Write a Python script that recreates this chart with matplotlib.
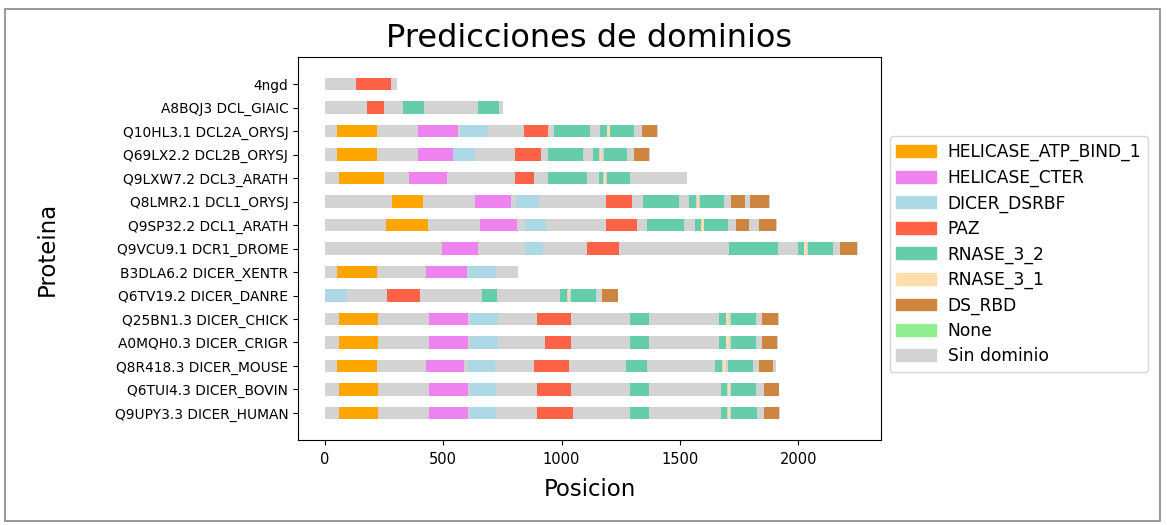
import matplotlib
matplotlib.use('Agg')
import matplotlib.pyplot as plt
import matplotlib.patches as mpatches

# proteins, top to bottom
proteinas = ['4ngd', 'A8BQJ3 DCL_GIAIC', 'Q10HL3.1 DCL2A_ORYSJ', 'Q69LX2.2 DCL2B_ORYSJ',
             'Q9LXW7.2 DCL3_ARATH', 'Q8LMR2.1 DCL1_ORYSJ', 'Q9SP32.2 DCL1_ARATH',
             'Q9VCU9.1 DCR1_DROME', 'B3DLA6.2 DICER_XENTR', 'Q6TV19.2 DICER_DANRE',
             'Q25BN1.3 DICER_CHICK', 'A0MQH0.3 DICER_CRIGR', 'Q8R418.3 DICER_MOUSE',
             'Q6TUI4.3 DICER_BOVIN', 'Q9UPY3.3 DICER_HUMAN']
longitudes = [305, 754, 1409, 1373, 1532, 1880, 1910, 2251, 815, 1239,
              1918, 1913, 1906, 1921, 1922]

dominios = ['HELICASE_ATP_BIND_1', 'HELICASE_CTER', 'DICER_DSRBF', 'PAZ',
            'RNASE_3_2', 'RNASE_3_1', 'DS_RBD', 'None', 'Sin dominio']
colores = ['orange', 'violet', 'lightblue', 'tomato', 'mediumaquamarine',
           'navajowhite', 'peru', 'lightgreen', 'lightgrey']

# (protein index, domain, start, end)
segmentos = [
    (0, 'PAZ', 133, 280),
    (1, 'PAZ', 176, 250), (1, 'RNASE_3_2', 330, 418), (1, 'RNASE_3_2', 648, 736),
    (2, 'HELICASE_ATP_BIND_1', 52, 221), (2, 'HELICASE_CTER', 395, 560),
    (2, 'DICER_DSRBF', 570, 690), (2, 'PAZ', 839, 942), (2, 'RNASE_3_2', 970, 1121),
    (2, 'RNASE_3_2', 1163, 1194), (2, 'RNASE_3_1', 1194, 1204),
    (2, 'RNASE_3_2', 1206, 1307), (2, 'DS_RBD', 1341, 1403),
    (3, 'HELICASE_ATP_BIND_1', 52, 221), (3, 'HELICASE_CTER', 395, 539),
    (3, 'DICER_DSRBF', 542, 633), (3, 'PAZ', 803, 914), (3, 'RNASE_3_2', 942, 1092),
    (3, 'RNASE_3_2', 1133, 1160), (3, 'RNASE_3_1', 1162, 1172),
    (3, 'RNASE_3_2', 1179, 1277), (3, 'DS_RBD', 1304, 1368),
    (4, 'HELICASE_ATP_BIND_1', 58, 250), (4, 'HELICASE_CTER', 353, 515),
    (4, 'PAZ', 803, 883), (4, 'RNASE_3_2', 942, 1106), (4, 'RNASE_3_2', 1157, 1176),
    (4, 'RNASE_3_1', 1178, 1188), (4, 'RNASE_3_2', 1194, 1288),
    (5, 'HELICASE_ATP_BIND_1', 282, 414), (5, 'HELICASE_CTER', 633, 788),
    (5, 'DICER_DSRBF', 807, 906), (5, 'PAZ', 1188, 1297), (5, 'RNASE_3_2', 1345, 1497),
    (5, 'RNASE_3_2', 1539, 1570), (5, 'RNASE_3_1', 1572, 1582),
    (5, 'RNASE_3_2', 1585, 1686), (5, 'DS_RBD', 1716, 1777), (5, 'DS_RBD', 1797, 1876),
    (6, 'HELICASE_ATP_BIND_1', 259, 436), (6, 'HELICASE_CTER', 656, 810),
    (6, 'DICER_DSRBF', 845, 936), (6, 'PAZ', 1188, 1320), (6, 'RNASE_3_2', 1363, 1517),
    (6, 'RNASE_3_2', 1562, 1588), (6, 'RNASE_3_1', 1590, 1600),
    (6, 'RNASE_3_2', 1603, 1704), (6, 'DS_RBD', 1739, 1792), (6, 'DS_RBD', 1835, 1906),
    (7, 'HELICASE_CTER', 494, 645), (7, 'DICER_DSRBF', 845, 921), (7, 'PAZ', 1107, 1244),
    (7, 'RNASE_3_2', 1706, 1916), (7, 'RNASE_3_2', 2000, 2024),
    (7, 'RNASE_3_1', 2026, 2036), (7, 'RNASE_3_2', 2042, 2148), (7, 'DS_RBD', 2178, 2247),
    (8, 'HELICASE_ATP_BIND_1', 52, 221), (8, 'HELICASE_CTER', 426, 600),
    (8, 'DICER_DSRBF', 606, 724),
    (9, 'DICER_DSRBF', 0, 95), (9, 'PAZ', 262, 403), (9, 'RNASE_3_2', 664, 729),
    (9, 'RNASE_3_2', 994, 1023), (9, 'RNASE_3_1', 1025, 1035),
    (9, 'RNASE_3_2', 1039, 1144), (9, 'DS_RBD', 1171, 1239),
    (10, 'HELICASE_ATP_BIND_1', 58, 224), (10, 'HELICASE_CTER', 439, 603),
    (10, 'DICER_DSRBF', 611, 732), (10, 'PAZ', 898, 1038), (10, 'RNASE_3_2', 1289, 1370),
    (10, 'RNASE_3_2', 1667, 1694), (10, 'RNASE_3_1', 1696, 1706),
    (10, 'RNASE_3_2', 1718, 1820), (10, 'DS_RBD', 1848, 1913),
    (11, 'HELICASE_ATP_BIND_1', 58, 224), (11, 'HELICASE_CTER', 439, 603),
    (11, 'DICER_DSRBF', 611, 732), (11, 'PAZ', 929, 1038), (11, 'RNASE_3_2', 1289, 1370),
    (11, 'RNASE_3_2', 1667, 1694), (11, 'RNASE_3_1', 1696, 1706),
    (11, 'RNASE_3_2', 1718, 1820), (11, 'DS_RBD', 1848, 1910),
    (12, 'HELICASE_ATP_BIND_1', 52, 221), (12, 'HELICASE_CTER', 426, 588),
    (12, 'DICER_DSRBF', 603, 717), (12, 'PAZ', 883, 1030), (12, 'RNASE_3_2', 1274, 1363),
    (12, 'RNASE_3_2', 1649, 1680), (12, 'RNASE_3_1', 1682, 1694),
    (12, 'RNASE_3_2', 1702, 1807), (12, 'DS_RBD', 1835, 1894),
    (13, 'HELICASE_ATP_BIND_1', 58, 224), (13, 'HELICASE_CTER', 439, 603),
    (13, 'DICER_DSRBF', 611, 724), (13, 'PAZ', 898, 1038), (13, 'RNASE_3_2', 1289, 1370),
    (13, 'RNASE_3_2', 1674, 1701), (13, 'RNASE_3_1', 1703, 1713),
    (13, 'RNASE_3_2', 1718, 1820), (13, 'DS_RBD', 1857, 1918),
    (14, 'HELICASE_ATP_BIND_1', 58, 224), (14, 'HELICASE_CTER', 441, 603),
    (14, 'DICER_DSRBF', 611, 724), (14, 'PAZ', 898, 1047), (14, 'RNASE_3_2', 1289, 1370),
    (14, 'RNASE_3_2', 1674, 1701), (14, 'RNASE_3_1', 1703, 1713),
    (14, 'RNASE_3_2', 1718, 1827), (14, 'DS_RBD', 1857, 1918),
]

color_de = dict(zip(dominios, colores))

fig = plt.figure(figsize=(11.67, 5.25), dpi=100)
ax = fig.add_axes([0.2554, 0.1619, 0.4995, 0.7295])

alto = 0.55
for i, lon in enumerate(longitudes):
    ax.barh(i, lon, left=0, height=alto, color=color_de['Sin dominio'])
for i, dom, ini, fin in segmentos:
    ax.barh(i, fin - ini, left=ini, height=alto, color=color_de[dom])

ax.set_yticks(range(len(proteinas)))
ax.set_yticklabels(proteinas, fontsize=9.9)
ax.set_ylim(len(proteinas) - 1 + 1.15, -1.15)
ax.set_xlim(-114, 2350)
ax.tick_params(axis='x', labelsize=10.5, pad=5)
ax.set_title('Predicciones de dominios', fontsize=23, pad=7)
ax.set_xlabel('Posicion', fontsize=16.5, labelpad=8)
ax.set_ylabel('Proteina', fontsize=16.5, labelpad=40)

handles = [mpatches.Patch(color=c, label=d) for d, c in zip(dominios, colores)]
ax.legend(handles=handles, loc='center left', bbox_to_anchor=(1.0, 0.485),
          fontsize=12.3, handlelength=2.3, labelspacing=0.43, handletextpad=0.7)

# outer frame of the screenshot
W, H = 1167, 525
fig.patches.append(mpatches.Rectangle((5 / W, 1 - 521 / H), 1155 / W, 512 / H,
                                      transform=fig.transFigure, fill=False,
                                      edgecolor='#888888', linewidth=1.2))

fig.savefig('out.png', dpi=100)
